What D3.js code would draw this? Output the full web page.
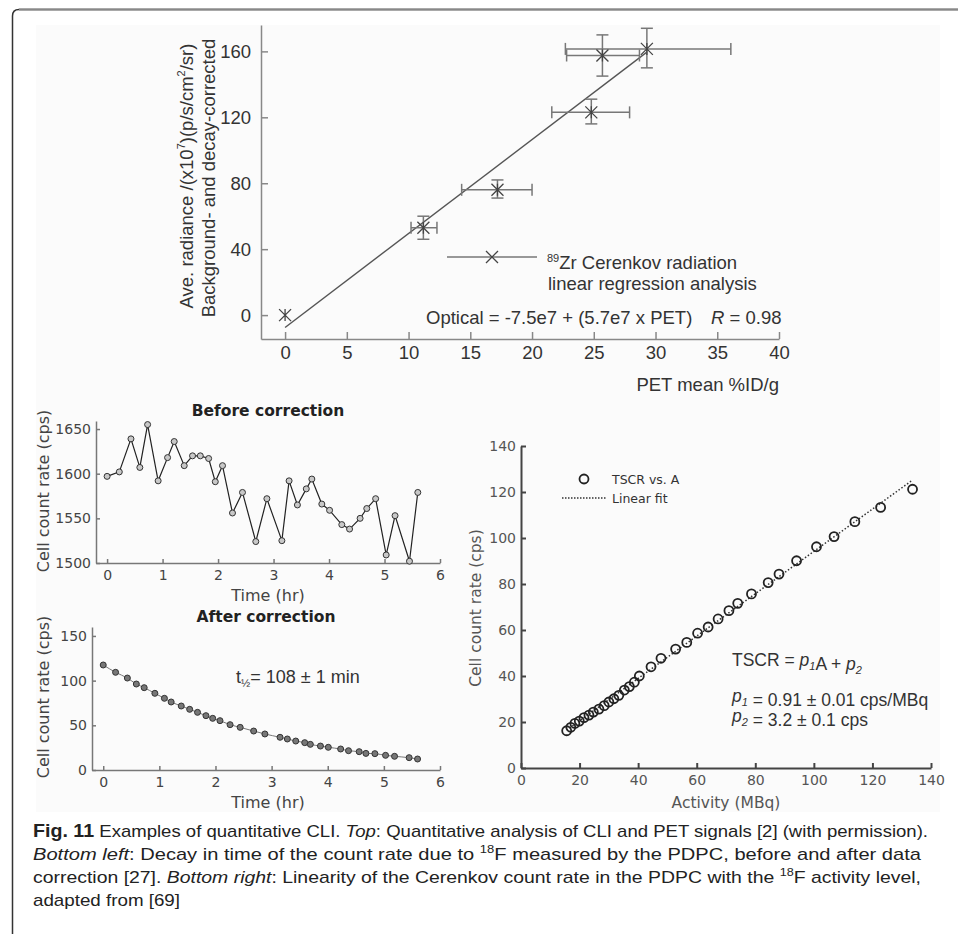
<!DOCTYPE html>
<html>
<head>
<meta charset="utf-8">
<script src="https://cdn.jsdelivr.net/npm/d3@7"></script>
<style>
  body { margin: 0; background: #fff; }
</style>
</head>
<body>
<div id="fig"></div>
<script>
// --- top panel: PET mean vs Cerenkov radiance (x1e7) ---
var petMean   = [0, 11.2, 17.2, 24.8, 25.7, 29.3];
var radiance  = [0, 53, 76, 123, 157.5, 161.5];
var petLow    = [0, 10.2, 14.3, 21.6, 22.8, 22.7];
var petHigh   = [0, 12.3, 20.0, 27.9, 28.7, 36.1];
var radLow    = [0, 46, 71, 116, 145, 150];
var radHigh   = [0, 60, 82, 131, 170, 174];
var topXTicks = [0, 5, 10, 15, 20, 25, 30, 35, 40];
var topYTicks = [0, 40, 80, 120, 160];
var fitIntercept = -7.5, fitSlope = 5.7;   // Optical = -7.5e7 + 5.7e7 x PET

// --- bottom left: count rate before / after correction ---
var timeHr = [0, 0.22, 0.43, 0.59, 0.73, 0.92, 1.09, 1.21, 1.39, 1.54, 1.68, 1.83, 1.95, 2.08, 2.26, 2.44, 2.68,
              2.88, 3.15, 3.28, 3.43, 3.59, 3.69, 3.87, 4.01, 4.23, 4.37, 4.56, 4.68, 4.84, 5.03, 5.19, 5.45, 5.6];
var rateBefore = [1597, 1602, 1639, 1607, 1655, 1592, 1618, 1636, 1609, 1620, 1620, 1617, 1591, 1609, 1556, 1579, 1524,
                  1572, 1525, 1592, 1565, 1583, 1594, 1566, 1559, 1543, 1538, 1550, 1561, 1572, 1509, 1553, 1502, 1579];
var rateAfter = [117.5, 109.3, 102.9, 96.2, 92.1, 85.8, 80.2, 76.1, 71.6, 67.9, 64.5, 60.8, 57.8, 55.2, 50.7, 47.7, 43.6,
                 40.3, 36.6, 34.7, 32.4, 30.6, 28.7, 26.8, 25.4, 23.5, 21.6, 20.5, 18.6, 18.3, 16.4, 15.3, 13.8, 12.3];
var timeTicks = [0, 1, 2, 3, 4, 5, 6];
var beforeTicks = [1500, 1550, 1600, 1650];
var afterTicks = [0, 50, 100, 150];

// --- bottom right: TSCR vs activity ---
var activity = [15.6, 17.0, 18.4, 19.9, 21.5, 23.2, 24.7, 26.6, 28.4, 30.0, 31.7, 33.4, 35.3, 37.0, 38.7, 40.4, 44.4,
                47.8, 52.8, 56.6, 60.3, 63.9, 67.3, 71.0, 74.0, 78.7, 84.4, 88.1, 94.1, 100.9, 106.9, 114.0, 122.8, 133.7];
var tscr = [16.2, 17.7, 19.4, 20.4, 21.9, 23.0, 24.3, 25.6, 27.1, 28.7, 30.1, 31.6, 33.9, 35.4, 37.3, 40.0, 44.0,
            47.7, 51.7, 54.6, 58.6, 61.3, 64.8, 68.4, 71.6, 75.7, 80.6, 84.3, 90.1, 96.2, 100.6, 107.1, 113.3, 121.2];
var actTicks = [0, 20, 40, 60, 80, 100, 120, 140];
var tscrTicks = [0, 20, 40, 60, 80, 100, 120, 140];

var W = 958, H = 934;
var svg = d3.select("#fig").append("svg").attr("width", W).attr("height", H);
var intFmt = d3.format("d");

// frame of the figure box
svg.append("rect").attr("x", 36).attr("y", 25).attr("width", 904).attr("height", 787).attr("fill", "#fbfbfb");
svg.append("path").attr("d", "M12.5," + H + "V16Q12.5,9.5 19,9.5H" + W)
   .attr("fill", "none").attr("stroke", "#333").attr("stroke-width", 1.5);
svg.append("path").attr("d", "M19,9.5H" + W).attr("stroke", "#888").attr("stroke-width", 2.2);

function styleAxis(g, col, fsize, fam, lineW, txtCol) {
  g.selectAll("path, line").attr("stroke", col).attr("stroke-width", lineW);
  g.selectAll("text").attr("font-family", fam).attr("font-size", fsize).attr("fill", txtCol);
}

// ================= TOP PANEL =================
var arial = "Liberation Sans, Arial, sans-serif";
var topFs = 18.5;
var tx = d3.scaleLinear().domain([-1.95, 40]).range([261, 779]);
var ty = d3.scaleLinear().domain([-14.5, 176]).range([339, 25]);

var gTop = svg.append("g");
gTop.append("g").attr("transform", "translate(0,339)")
  .call(d3.axisBottom(tx).tickValues(topXTicks).tickFormat(intFmt).tickSizeInner(-7).tickSizeOuter(0).tickPadding(7))
  .call(styleAxis, "#888", topFs, arial, 1.5, "#333");
gTop.append("g").attr("transform", "translate(261,0)")
  .call(d3.axisLeft(ty).tickValues(topYTicks).tickFormat(intFmt).tickSizeInner(-7).tickSizeOuter(0).tickPadding(10))
  .call(styleAxis, "#888", topFs, arial, 1.5, "#333");

gTop.append("text").attr("x", 779).attr("y", 391).attr("text-anchor", "end")
  .attr("font-family", arial).attr("font-size", topFs).attr("fill", "#333").text("PET mean %ID/g");

var yl1 = gTop.append("text").attr("transform", "translate(193,176) rotate(-90)").attr("text-anchor", "middle")
  .attr("font-family", arial).attr("font-size", topFs).attr("fill", "#333");
yl1.append("tspan").text("Ave. radiance /(x10");
yl1.append("tspan").attr("font-size", 11).attr("dy", -8).text("7");
yl1.append("tspan").attr("dy", 8).text(")(p/s/cm");
yl1.append("tspan").attr("font-size", 11).attr("dy", -8).text("2");
yl1.append("tspan").attr("dy", 8).text("/sr)");
gTop.append("text").attr("transform", "translate(215,178) rotate(-90)").attr("text-anchor", "middle")
  .attr("font-family", arial).attr("font-size", topFs).attr("fill", "#333").text("Background- and decay-corrected");

// regression line
var fitEnds = [0, d3.max(petMean)];
gTop.append("line")
  .attr("x1", tx(fitEnds[0])).attr("y1", ty(fitIntercept + fitSlope * fitEnds[0]))
  .attr("x2", tx(fitEnds[1])).attr("y2", ty(fitIntercept + fitSlope * fitEnds[1]))
  .attr("stroke", "#555").attr("stroke-width", 1.4);

// error bars
var errCol = "#777";
petMean.forEach(function(p, i) {
  if (petHigh[i] > petLow[i]) {
    var yy = ty(radiance[i]);
    gTop.append("line").attr("x1", tx(petLow[i])).attr("x2", tx(petHigh[i])).attr("y1", yy).attr("y2", yy)
      .attr("stroke", errCol).attr("stroke-width", 1.5);
    [petLow[i], petHigh[i]].forEach(function(v) {
      gTop.append("line").attr("x1", tx(v)).attr("x2", tx(v)).attr("y1", yy - 6).attr("y2", yy + 6)
        .attr("stroke", errCol).attr("stroke-width", 1.5);
    });
  }
  if (radHigh[i] > radLow[i]) {
    var xx = tx(p);
    gTop.append("line").attr("x1", xx).attr("x2", xx).attr("y1", ty(radLow[i])).attr("y2", ty(radHigh[i]))
      .attr("stroke", errCol).attr("stroke-width", 1.5);
    [radLow[i], radHigh[i]].forEach(function(v) {
      gTop.append("line").attr("x1", xx - 6).attr("x2", xx + 6).attr("y1", ty(v)).attr("y2", ty(v))
        .attr("stroke", errCol).attr("stroke-width", 1.5);
    });
  }
});
// cross markers
gTop.selectAll(".mk").data(petMean).enter().append("path").attr("class", "mk")
  .attr("transform", function(d, i) { return "translate(" + tx(d) + "," + ty(radiance[i]) + ")"; })
  .attr("d", "M-6,-6L6,6M-6,6L6,-6M0,-6V6")
  .attr("stroke", "#444").attr("stroke-width", 1.3).attr("fill", "none");

// legend
gTop.append("line").attr("x1", 447).attr("x2", 537).attr("y1", 257).attr("y2", 257).attr("stroke", errCol).attr("stroke-width", 1.5);
gTop.append("path").attr("transform", "translate(492,257)").attr("d", "M-6,-6L6,6M-6,6L6,-6")
  .attr("stroke", "#444").attr("stroke-width", 1.3);
var lg1 = gTop.append("text").attr("x", 547).attr("y", 269).attr("font-family", arial).attr("font-size", topFs).attr("fill", "#333");
lg1.append("tspan").attr("font-size", 11).attr("dy", -7).text("89");
lg1.append("tspan").attr("dy", 7).text("Zr Cerenkov radiation");
gTop.append("text").attr("x", 548).attr("y", 290).attr("font-family", arial).attr("font-size", topFs).attr("fill", "#333")
  .text("linear regression analysis");
gTop.append("text").attr("x", 426).attr("y", 324).attr("font-family", arial).attr("font-size", topFs).attr("fill", "#333")
  .text("Optical = -7.5e7 + (5.7e7 x PET)");
var rr = gTop.append("text").attr("x", 711).attr("y", 324).attr("font-family", arial).attr("font-size", topFs).attr("fill", "#333");
rr.append("tspan").attr("font-style", "italic").text("R");
rr.append("tspan").text(" = 0.98");

// ================= BOTTOM LEFT =================
var dejavu = "DejaVu Sans, sans-serif";
var tickFs = 14, labFs = 16;

function timePanel(xr, yDom, yr, ticks, vals, title, titleY, ylabY, style) {
  var x = d3.scaleLinear().domain([-0.2, 6]).range(xr);
  var y = d3.scaleLinear().domain(yDom).range(yr);
  var g = svg.append("g");
  g.append("g").attr("transform", "translate(0," + yr[0] + ")")
    .call(d3.axisBottom(x).tickValues(timeTicks).tickFormat(intFmt).tickSizeInner(-4).tickSizeOuter(0).tickPadding(7))
    .call(styleAxis, "#777", tickFs, dejavu, 1.5, "#444");
  g.append("g").attr("transform", "translate(" + xr[0] + ",0)")
    .call(d3.axisLeft(y).tickValues(ticks).tickFormat(intFmt).tickSizeInner(-4).tickSizeOuter(0).tickPadding(5))
    .call(styleAxis, "#777", tickFs, dejavu, 1.5, "#444");
  g.append("text").attr("x", (xr[0] + xr[1]) / 2).attr("y", titleY).attr("text-anchor", "middle")
    .attr("font-family", dejavu).attr("font-weight", "bold").attr("font-size", 15.5).attr("fill", "#222").text(title);
  g.append("text").attr("x", 268).attr("y", yr[0] + 38).attr("text-anchor", "middle")
    .attr("font-family", dejavu).attr("font-size", labFs).attr("fill", "#444").text("Time (hr)");
  g.append("text").attr("transform", "translate(49," + ylabY + ") rotate(-90)").attr("text-anchor", "middle")
    .attr("font-family", dejavu).attr("font-size", labFs).attr("fill", "#444").text("Cell count rate (cps)");
  var line = d3.line().x(function(d, i) { return x(timeHr[i]); }).y(function(d) { return y(d); });
  if (style === "before") {
    g.append("path").datum(vals).attr("d", line).attr("fill", "none").attr("stroke", "#222").attr("stroke-width", 1.2);
    g.selectAll("circle").data(vals).enter().append("circle")
      .attr("cx", function(d, i) { return x(timeHr[i]); }).attr("cy", function(d) { return y(d); })
      .attr("r", 3).attr("fill", "#c8c8c8").attr("stroke", "#333").attr("stroke-width", 1);
  } else {
    g.append("path").datum(vals).attr("d", line.curve(d3.curveMonotoneX)).attr("fill", "none")
      .attr("stroke", "#777").attr("stroke-width", 1);
    g.selectAll("circle").data(vals).enter().append("circle")
      .attr("cx", function(d, i) { return x(timeHr[i]); }).attr("cy", function(d) { return y(d); })
      .attr("r", 3).attr("fill", "#777").attr("stroke", "#333").attr("stroke-width", 1);
  }
  return g;
}

timePanel([96, 440], [1500, 1659], [563, 421], beforeTicks, rateBefore, "Before correction", 416, 491, "before");
var gA = timePanel([92, 440], [0, 160], [770, 627], afterTicks, rateAfter, "After correction", 622, 697, "after");
var th = gA.append("text").attr("x", 236).attr("y", 683).attr("font-family", arial).attr("font-size", 18).attr("fill", "#333");
th.append("tspan").text("t");
th.append("tspan").attr("font-size", 11).attr("dy", 4).text("½");
th.append("tspan").attr("dy", -4).text("= 108 ± 1 min");

// ================= BOTTOM RIGHT =================
var ax = d3.scaleLinear().domain([0, 140]).range([521, 931]);
var ay = d3.scaleLinear().domain([0, 140]).range([768, 446]);
var gR = svg.append("g");
gR.append("g").attr("transform", "translate(0,768)")
  .call(d3.axisBottom(ax).tickValues(actTicks).tickFormat(intFmt).tickSizeInner(-5).tickSizeOuter(0).tickPadding(7))
  .call(styleAxis, "#444", 14, dejavu, 2, "#555");
gR.append("g").attr("transform", "translate(521,0)")
  .call(d3.axisLeft(ay).tickValues(tscrTicks).tickFormat(intFmt).tickSizeInner(-5).tickSizeOuter(0).tickPadding(5))
  .call(styleAxis, "#444", 14, dejavu, 2, "#555");
gR.append("text").attr("x", 726).attr("y", 808).attr("text-anchor", "middle")
  .attr("font-family", dejavu).attr("font-size", 15.5).attr("fill", "#555").text("Activity (MBq)");
gR.append("text").attr("transform", "translate(481,608) rotate(-90)").attr("text-anchor", "middle")
  .attr("font-family", dejavu).attr("font-size", 15.5).attr("fill", "#555").text("Cell count rate (cps)");

// least-squares fit through the points
var mA = d3.mean(activity), mT = d3.mean(tscr);
var sxy = d3.sum(activity, function(a, i) { return (a - mA) * (tscr[i] - mT); });
var sxx = d3.sum(activity, function(a) { return (a - mA) * (a - mA); });
var slope = sxy / sxx, icpt = mT - slope * mA;
var aExt = d3.extent(activity);
gR.append("line").attr("x1", ax(aExt[0])).attr("y1", ay(icpt + slope * aExt[0]))
  .attr("x2", ax(aExt[1])).attr("y2", ay(icpt + slope * aExt[1]))
  .attr("stroke", "#333").attr("stroke-width", 1.5).attr("stroke-dasharray", "1.5,2");
gR.selectAll("circle").data(activity).enter().append("circle")
  .attr("cx", function(d) { return ax(d); }).attr("cy", function(d, i) { return ay(tscr[i]); })
  .attr("r", 4.5).attr("fill", "none").attr("stroke", "#222").attr("stroke-width", 1.8);

// legend
gR.append("circle").attr("cx", 584).attr("cy", 479).attr("r", 4.5).attr("fill", "none").attr("stroke", "#222").attr("stroke-width", 1.8);
gR.append("text").attr("x", 612).attr("y", 484).attr("font-family", dejavu).attr("font-size", 12.5).attr("fill", "#333").text("TSCR vs. A");
gR.append("line").attr("x1", 562).attr("x2", 607).attr("y1", 498).attr("y2", 498)
  .attr("stroke", "#333").attr("stroke-width", 1.5).attr("stroke-dasharray", "1.5,1.5");
gR.append("text").attr("x", 612).attr("y", 503).attr("font-family", dejavu).attr("font-size", 12.5).attr("fill", "#333").text("Linear fit");

function pSub(t, n) {
  t.append("tspan").attr("font-style", "italic").text("p");
  t.append("tspan").attr("font-style", "italic").attr("font-size", 11).attr("dy", 4).text(n);
  t.append("tspan").attr("dy", -4).text("");
}
var e1 = gR.append("text").attr("x", 732).attr("y", 666).attr("font-family", arial).attr("font-size", 17.5).attr("fill", "#333");
e1.append("tspan").text("TSCR = ");
pSub(e1, "1");
e1.append("tspan").text("A + ");
pSub(e1, "2");
var e2 = gR.append("text").attr("x", 732).attr("y", 702).attr("font-family", arial).attr("font-size", 17.5).attr("fill", "#333");
pSub(e2, "1");
e2.append("tspan").text(" = 0.91 ± 0.01 cps/MBq");
var e3 = gR.append("text").attr("x", 732).attr("y", 722).attr("font-family", arial).attr("font-size", 17.5).attr("fill", "#333");
pSub(e3, "2");
e3.append("tspan").text(" = 3.2 ± 0.1 cps");

// ================= CAPTION =================
var capFont = "Liberation Sans Narrow, Liberation Sans, sans-serif";
var capLines = [
  [["b", "Fig. 11"], ["n", "  Examples of quantitative CLI. "], ["i", "Top"], ["n", ": Quantitative analysis of CLI and PET signals [2] (with permission)."]],
  [["i", "Bottom left"], ["n", ": Decay in time of the count rate due to "], ["s", "18"], ["n", "F measured by the PDPC, before and after data"]],
  [["n", "correction [27]. "], ["i", "Bottom right"], ["n", ": Linearity of the Cerenkov count rate in the PDPC with the "], ["s", "18"], ["n", "F activity level,"]],
  [["n", "adapted from [69]"]]
];
var capWidths = [895, 888, 888, 147];
capLines.forEach(function(parts, li) {
  var t = svg.append("text").attr("x", 33).attr("y", 837 + li * 23)
    .attr("font-family", capFont).attr("font-size", 17).attr("fill", "#222")
    .attr("textLength", capWidths[li]).attr("lengthAdjust", "spacingAndGlyphs");
  var up = false;
  parts.forEach(function(p) {
    var s = t.append("tspan").text(p[1]);
    if (p[0] === "b") s.attr("font-weight", "bold").attr("font-size", 18);
    if (p[0] === "i") s.attr("font-style", "italic");
    if (p[0] === "s") { s.attr("font-size", 11).attr("dy", -7); up = true; }
    else if (up) { s.attr("dy", 7); up = false; }
  });
});
</script>
</body>
</html>
